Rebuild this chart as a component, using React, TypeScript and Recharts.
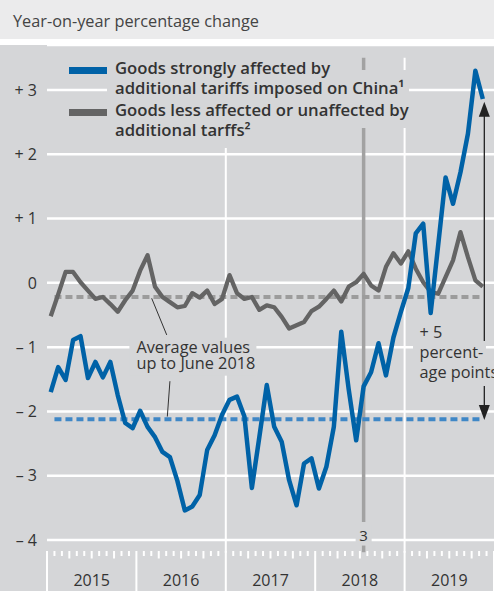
import React from 'react';
import { LineChart, Line, XAxis, YAxis, CartesianGrid, ReferenceLine, ReferenceDot, Legend } from 'recharts';

// ---- data (monthly, Jan 2015 = index 0) ----
const strongly = [
  -1.70, -1.31, -1.51, -0.89, -0.83, -1.48, -1.23, -1.47, -1.23, -1.75, -2.18, -2.26,
  -1.99, -2.24, -2.40, -2.63, -2.71, -3.08, -3.54, -3.48, -3.30, -2.60, -2.37, -2.05,
  -1.82, -1.77, -2.08, -3.19, -2.40, -1.59, -2.24, -2.47, -3.07, -3.46, -2.81, -2.73,
  -3.20, -2.86, -2.24, -0.76, -1.66, -2.45, -1.61, -1.39, -0.94, -1.44, -0.85, -0.45,
  -0.08, 0.77, 0.92, -0.47, 0.58, 1.64, 1.23, 1.72, 2.32, 3.30, 2.86,
];
const less = [
  -0.52, -0.18, 0.17, 0.17, 0.01, -0.12, -0.25, -0.22, -0.33, -0.45, -0.27, -0.12,
  0.19, 0.43, -0.06, -0.22, -0.30, -0.38, -0.36, -0.16, -0.23, -0.12, -0.33, -0.25,
  0.12, -0.16, -0.25, -0.22, -0.42, -0.35, -0.38, -0.53, -0.71, -0.66, -0.61, -0.44,
  -0.37, -0.25, -0.12, -0.29, -0.06, 0.01, 0.14, -0.04, -0.12, 0.25, 0.46, 0.30,
  0.49, 0.22, 0.01, -0.14, -0.17, 0.09, 0.35, 0.79, 0.40, 0.04, -0.06,
];
const avgStrongly = -2.12;
const avgLess = -0.22;
const yearLabels = ['2015', '2016', '2017', '2018', '2019'];
const yTicks = [-4, -3, -2, -1, 0, 1, 2, 3];
const monthTicks = Array.from({ length: 61 }, (_, i) => i);
const gridYears = [24, 48];
const tariffMonth = 42.5; // July 2018
const nameStrongly = 'Goods strongly affected by\nadditional tariffs imposed on China¹';
const nameLess = 'Goods less affected or unaffected by\nadditional tarffs²';
const seriesOrder = ['strongly', 'less'];
const titleText = 'Year-on-year percentage change';
const avgText = ['Average values', 'up to June 2018'];
const plusText = ['+ 5', 'percent-', 'age points'];

const data = strongly.map((v, i) => ({ t: i + 0.5, strongly: v, less: less[i] }));

// ---- styles ----
const FONT = "'Open Sans', sans-serif";
const FS = 16.3;
const BG = '#d5d6d8';
const TEXT = '#333333';
const BLUE = '#0062a7';
const BLUE_DASH = '#3f87c6';
const GREY = '#646464';
const GREY_DASH = '#9c9c9c';
const MARK = '#a2a2a2';

const fmtY = (v: number) => (v > 0 ? `+ ${v}` : v < 0 ? `\u2013 ${Math.abs(v)}` : '0');

function MonthTick(props: any) {
  const { x, y, payload } = props;
  const v = payload.value as number;
  const top = y + 11;
  let len = 5;
  if (v % 12 === 0) len = 45;
  else if (v % 3 === 0) len = 7.5;
  return (
    <g>
      <line x1={x} x2={x} y1={top} y2={top + len} stroke="#fff" strokeWidth={2} />
      {v % 12 === 6 && (
        <text x={x} y={y + 46} textAnchor="middle" fontSize={16} fill={TEXT} fontFamily={FONT}>
          {yearLabels[(v - 6) / 12]}
        </text>
      )}
    </g>
  );
}

function LegendContent(props: any) {
  const payload = props.payload || [];
  const items = seriesOrder.map((k) => payload.find((p: any) => p.dataKey === k)).filter(Boolean);
  const maskLayer = (
    <div>
      {items.map((it: any, idx: number) => (
        <div key={it.dataKey} style={{ paddingLeft: 46, marginTop: idx ? 2 : 0 }}>
          {String(it.value).split('\n').map((ln: string, j: number) => (
            <div key={j} style={{ height: 20, lineHeight: '20px', whiteSpace: 'nowrap' }}>
              <span style={{ background: BG, padding: '6px 5px 7px 8px', marginLeft: -8 }}>
                <span style={{ visibility: 'hidden' }}>{ln}</span>
              </span>
            </div>
          ))}
        </div>
      ))}
    </div>
  );
  const textLayer = (
    <div style={{ position: 'absolute', left: 0, top: 0 }}>
      {items.map((it: any, idx: number) => {
        const lines = String(it.value).split('\n');
        return (
          <div
            key={it.dataKey}
            style={{ position: 'relative', paddingLeft: 46, marginTop: idx ? 2 : 0, lineHeight: '20px', whiteSpace: 'nowrap', color: TEXT }}
          >
            <div style={{ position: 'absolute', left: 0, top: 9, width: 38, height: 6.5, background: it.color }} />
            {lines.map((ln, j) => (
              <React.Fragment key={j}>
                {j > 0 && <br />}
                {ln}
              </React.Fragment>
            ))}
          </div>
        );
      })}
    </div>
  );
  return (
    <div style={{ position: 'relative', fontFamily: FONT, fontWeight: 600, fontSize: 16.7 }}>
      {maskLayer}
      {textLayer}
    </div>
  );
}

const AvgLabel = (p: any) => {
  const { cx, cy } = p;
  return (
    <g>
      <rect x={cx - 7} y={cy - 15} width={127} height={38} fill={BG} />
      <text x={cx} y={cy} fontSize={FS} fill={TEXT} fontFamily={FONT}>
        <tspan x={cx} dy={0}>{avgText[0]}</tspan>
        <tspan x={cx} dy={16.8}>{avgText[1]}</tspan>
      </text>
    </g>
  );
};

const PlusLabel = (p: any) => {
  const { cx, cy } = p;
  return (
    <g>
      <rect x={cx - 6.5} y={cy + 2.5} width={73} height={24} fill={BG} />
      <rect x={cx - 6.5} y={cy + 26.5} width={90} height={21} fill={BG} />
      <text x={cx} y={cy} fontSize={FS} fill={TEXT} fontFamily={FONT}>
        <tspan x={cx} dy={0}>{plusText[0]}</tspan>
        <tspan x={cx} dy={20}>{plusText[1]}</tspan>
        <tspan x={cx} dy={19.5}>{plusText[2]}</tspan>
      </text>
    </g>
  );
};

const MarkLabel = (p: any) => {
  const { cx, cy } = p;
  return (
    <g>
      <rect x={cx - 8} y={cy - 11} width={16} height={21} fill={BG} />
      <text x={cx} y={cy + 5.5} textAnchor="middle" fontSize={15} fill={TEXT} fontFamily={FONT}>3</text>
    </g>
  );
};

const ArrowUp = (p: any) => {
  const { cx, cy } = p;
  return <polygon points={`${cx},${cy} ${cx - 5.5},${cy + 15} ${cx + 5.5},${cy + 15}`} fill="#222" />;
};
const ArrowDown = (p: any) => {
  const { cx, cy } = p;
  return <polygon points={`${cx},${cy} ${cx - 5.5},${cy - 15} ${cx + 5.5},${cy - 15}`} fill="#222" />;
};

export default function App() {
  return (
    <div style={{ position: 'absolute', left: 0, top: 0, width: 494, height: 591, background: '#fff', overflow: 'hidden' }}>
      <div
        style={{
          height: 39,
          background: '#ebebec',
          fontFamily: FONT,
          fontSize: FS,
          color: '#444',
          lineHeight: '42px',
          paddingLeft: 13,
          whiteSpace: 'nowrap',
        }}
      >
        {titleText}
      </div>
      <div style={{ position: 'absolute', top: 45, left: 0, width: 494, height: 546, background: BG }}>
        <LineChart width={494} height={546} data={data} margin={{ top: 0, right: 0, bottom: 0, left: 0 }}>
          <CartesianGrid vertical={false} stroke="#fff" strokeWidth={2.5} />
          <XAxis
            type="number"
            dataKey="t"
            domain={[0, 60]}
            ticks={monthTicks}
            interval={0}
            tick={<MonthTick />}
            axisLine={false}
            tickLine={false}
            tickSize={0}
            tickMargin={0}
            height={51}
            allowDataOverflow
          />
          <YAxis
            type="number"
            domain={[-4, 3.7]}
            ticks={yTicks}
            interval={0}
            tickFormatter={fmtY}
            axisLine={false}
            tickLine={false}
            tickSize={0}
            tickMargin={10}
            width={47}
            tick={{ fill: TEXT, fontSize: 16, fontFamily: FONT }}
            allowDataOverflow
          />
          {gridYears.map((m) => (
            <ReferenceLine
              key={m}
              segment={[{ x: m, y: 3.5 }, { x: m, y: -4.2 }]}
              stroke="#fff"
              strokeWidth={2}
              ifOverflow="visible"
            />
          ))}
          <ReferenceLine segment={[{ x: tariffMonth, y: 3.5 }, { x: tariffMonth, y: -3.72 }]} stroke={MARK} strokeWidth={3.5} ifOverflow="visible" />
          <ReferenceLine segment={[{ x: tariffMonth, y: -4.08 }, { x: tariffMonth, y: -4.19 }]} stroke={MARK} strokeWidth={3.5} ifOverflow="visible" />
          <ReferenceDot x={tariffMonth} y={-3.93} r={0} shape={MarkLabel} ifOverflow="visible" />
          <ReferenceLine segment={[{ x: 1.0, y: avgLess }, { x: 58.4, y: avgLess }]} stroke={GREY_DASH} strokeWidth={4} strokeDasharray="7 4" ifOverflow="visible" />
          <ReferenceLine segment={[{ x: 1.0, y: avgStrongly }, { x: 58.4, y: avgStrongly }]} stroke={BLUE_DASH} strokeWidth={4} strokeDasharray="7 4" ifOverflow="visible" />
          <ReferenceLine segment={[{ x: 14.05, y: -0.24 }, { x: 16.07, y: -0.81 }]} stroke={TEXT} strokeWidth={1} ifOverflow="visible" />
          <ReferenceLine segment={[{ x: 16.5, y: -1.53 }, { x: 16.15, y: -2.08 }]} stroke={TEXT} strokeWidth={1} ifOverflow="visible" />
          <ReferenceDot x={12} y={-1.086} r={0} shape={AvgLabel} ifOverflow="visible" />
          <ReferenceLine segment={[{ x: 58.7, y: 2.75 }, { x: 58.7, y: -0.92 }]} stroke="#222" strokeWidth={1.3} ifOverflow="visible" />
          <ReferenceLine segment={[{ x: 58.7, y: -1.6 }, { x: 58.7, y: -2.05 }]} stroke="#222" strokeWidth={1.3} ifOverflow="visible" />
          <ReferenceDot x={58.7} y={2.818} r={0} shape={ArrowUp} ifOverflow="visible" />
          <ReferenceDot x={58.7} y={-2.133} r={0} shape={ArrowDown} ifOverflow="visible" />
          <ReferenceDot x={50} y={-0.865} r={0} shape={PlusLabel} ifOverflow="visible" />
          <Line
            dataKey="less"
            name={nameLess}
            type="linear"
            stroke={GREY}
            strokeWidth={4.3}
            dot={false}
            strokeLinejoin="round"
            isAnimationActive={false}
          />
          <Line
            dataKey="strongly"
            name={nameStrongly}
            type="linear"
            stroke={BLUE}
            strokeWidth={4.5}
            dot={false}
            strokeLinejoin="round"
            isAnimationActive={false}
          />
          <Legend
            layout="horizontal"
            verticalAlign="middle"
            align="center"
            content={<LegendContent />}
            wrapperStyle={{ left: 69, top: 13, width: 420, height: 'auto' }}
          />
        </LineChart>
      </div>
    </div>
  );
}
